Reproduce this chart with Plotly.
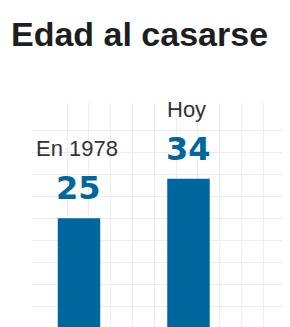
import plotly.graph_objects as go

# Data
CATEGORIES = ["En 1978", "Hoy"]
VALUES = [25, 34]
TITLE = "Edad al casarse"
Y_GRID = [5, 10, 15, 20, 25, 30, 35, 40, 45]
X_GRID = [1, 2, 3, 4, 5, 6, 7, 8, 9, 10]

BLUE = "#00669e"
GRID = "#ececec"

fig = go.Figure()
fig.add_trace(go.Bar(
    x=CATEGORIES, y=VALUES, marker=dict(color=BLUE, line=dict(width=0)),
    width=0.388, hoverinfo="skip", showlegend=False,
))
# invisible helper trace so the background grid axis is drawn
fig.add_trace(go.Scatter(
    x=X_GRID, y=[None] * len(X_GRID), xaxis="x2", mode="none",
    hoverinfo="skip", showlegend=False,
))

for cat, val in zip(CATEGORIES, VALUES):
    fig.add_annotation(
        x=cat, y=val, xref="x", yref="y", text=str(val), showarrow=False,
        yanchor="bottom", yshift=9,
        font=dict(family="DejaVu Sans", size=32, color=BLUE, weight="bold"),
    )
    fig.add_annotation(
        x=cat, y=val, xref="x", yref="y", text=cat, showarrow=False,
        yanchor="bottom", yshift=55, xshift=-2,
        font=dict(family="Liberation Sans", size=22, color="#333333"),
    )

fig.update_layout(
    width=290, height=327,
    margin=dict(l=32, r=7, t=103, b=0),
    paper_bgcolor="white", plot_bgcolor="white",
    title=dict(
        text=f"<b>{TITLE}</b>", xref="container", yref="container",
        x=11 / 290, xanchor="left", y=(327 - 46) / 327, yanchor="bottom",
        font=dict(family="Liberation Sans", size=34, color="#1e1e1e"),
    ),
    xaxis=dict(
        type="category", range=[-0.429, 1.863], showgrid=False,
        showticklabels=False, ticks="", showline=False, zeroline=False,
    ),
    xaxis2=dict(
        overlaying="x", anchor="y", range=[-0.606, 10.908],
        tickmode="array", tickvals=X_GRID, showgrid=True, gridcolor=GRID,
        gridwidth=1, showticklabels=False, ticks="", showline=False,
        zeroline=False, layer="below traces",
    ),
    yaxis=dict(
        range=[0.23, 51.25], tickmode="array", tickvals=Y_GRID,
        showgrid=True, gridcolor=GRID, gridwidth=1, showticklabels=False,
        ticks="", showline=False, zeroline=False,
    ),
)

fig.write_html(
    "out.html",
    config={"displayModeBar": False, "staticPlot": True},
    post_script="document.body.style.margin='0';document.body.style.padding='0';",
)
